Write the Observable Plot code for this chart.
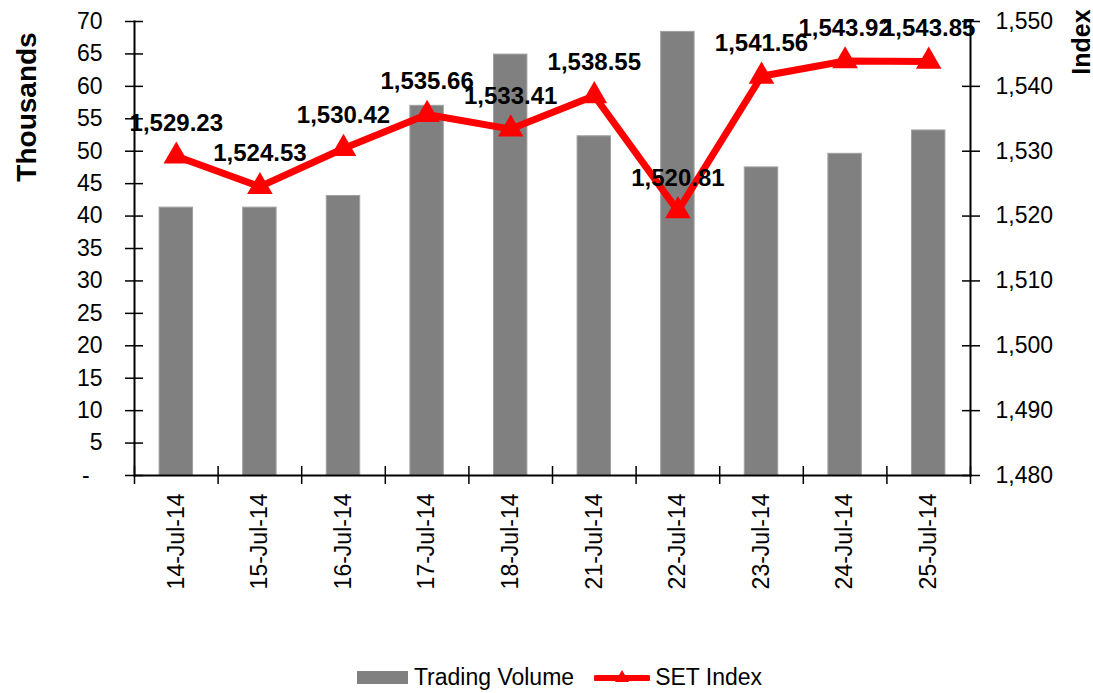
<!DOCTYPE html>
<html>
<head>
<meta charset="utf-8">
<script src="https://cdn.jsdelivr.net/npm/d3@7"></script>
<script src="https://cdn.jsdelivr.net/npm/@observablehq/plot@0.6"></script>
<style>
  body { margin: 0; background: #fff; font-family: "Liberation Sans", Arial, sans-serif; }
  #chart { position: relative; width: 1093px; height: 650px; }
  .ytitle { position: absolute; transform: translate(-50%, -50%) rotate(-90deg); white-space: nowrap; font-weight: bold; color: #000; line-height: 1; }
  #legend { height: 43px; display: flex; justify-content: center; align-items: center; padding-left: 26px; box-sizing: border-box; padding-top: 12px; font-size: 23px; color: #000; }
  .item { display: flex; align-items: center; margin: 0 8px; }
  .item svg { margin-right: 5px; }
</style>
</head>
<body>
<div id="chart">
  <div class="ytitle" style="left:27px; top:107px; font-size:28px;">Thousands</div>
  <div class="ytitle" style="left:1081px; top:42px; font-size:25px;">Index</div>
</div>
<div id="legend">
  <div class="item"><svg width="52" height="14"><rect x="0" y="0" width="51" height="13" fill="#808080"></rect></svg>Trading Volume</div>
  <div class="item" style="margin-left:12px"><svg width="56" height="24"><line x1="2" y1="12" x2="54" y2="12" stroke="#ff0000" stroke-width="6" stroke-linecap="round"></line><path d="M28,4 L35,16 L21,16 Z" fill="#ff0000"></path></svg>SET Index</div>
</div>
<script>
const dates = ["14-Jul-14", "15-Jul-14", "16-Jul-14", "17-Jul-14", "18-Jul-14", "21-Jul-14", "22-Jul-14", "23-Jul-14", "24-Jul-14", "25-Jul-14"];
const tradingVolume = [41.3, 41.3, 43.1, 57.0, 64.9, 52.3, 68.4, 47.5, 49.6, 53.2];
const setIndex = [1529.23, 1524.53, 1530.42, 1535.66, 1533.41, 1538.55, 1520.81, 1541.56, 1543.92, 1543.85];
const leftTicks = [0, 5, 10, 15, 20, 25, 30, 35, 40, 45, 50, 55, 60, 65, 70];
const rightTicks = [1480, 1490, 1500, 1510, 1520, 1530, 1540, 1550];

const leftDomain = [0, 70];
const rightDomain = [1480, 1550];
const toLeft = d3.scaleLinear(rightDomain, leftDomain);

const data = dates.map((d, i) => ({i, date: d, vol: tradingVolume[i], idx: setIndex[i], yIdx: toLeft(setIndex[i])}));
const idxs = dates.map((d, i) => i);
const bounds = dates.map((d, i) => i - 0.5).concat([dates.length - 0.5]);
const fmtIdx = d3.format(",.2f");
const fmtAxis = d3.format(",");

const chart = Plot.plot({
  width: 1093,
  height: 650,
  marginLeft: 134,
  marginRight: 123,
  marginTop: 21,
  marginBottom: 175,
  style: {fontFamily: "'Liberation Sans', Arial, sans-serif", fontSize: "23px", color: "#000", background: "#fff", overflow: "visible"},
  x: {type: "linear", domain: [-0.5, dates.length - 0.5]},
  y: {domain: leftDomain},
  marks: [
    Plot.rectY(data, {x1: d => d.i - 0.2, x2: d => d.i + 0.2, y: "vol", fill: "#808080", stroke: "#a0a0a0", strokeWidth: 1}),
    Plot.frame({anchor: "left", stroke: "#000", strokeWidth: 2}),
    Plot.frame({anchor: "right", stroke: "#000", strokeWidth: 2}),
    Plot.frame({anchor: "bottom", stroke: "#000", strokeWidth: 2}),
    // left axis: crossing ticks, then labels
    Plot.axisY({anchor: "left", ticks: leftTicks, tickSize: 18, dx: 9, tickFormat: () => "", label: null, strokeWidth: 1.5}),
    Plot.axisY({anchor: "left", ticks: leftTicks, tickSize: 0, tickPadding: 32, tickFormat: t => t === 0 ? "-\u00a0\u00a0" : String(t), label: null, fontSize: 23}),
    // right axis
    Plot.axisY({anchor: "right", ticks: rightTicks.map(toLeft), tickSize: 18, dx: -9, tickFormat: () => "", label: null, strokeWidth: 1.5}),
    Plot.axisY({anchor: "right", ticks: rightTicks.map(toLeft), tickSize: 0, tickPadding: 25, tickFormat: t => fmtAxis(Math.round(toLeft.invert(t))), label: null, fontSize: 23}),
    // bottom axis: boundary ticks and rotated labels
    Plot.axisX({ticks: bounds, tickSize: 18, dy: -9, tickFormat: () => "", label: null, strokeWidth: 1.5}),
    Plot.axisX({ticks: idxs, tickSize: 0, tickPadding: 18, tickRotate: -90, tickFormat: i => dates[i], label: null, fontSize: 23}),
    // SET index line
    Plot.line(data, {x: "i", y: "yIdx", stroke: "#ff0000", strokeWidth: 7}),
    Plot.dot(data, {x: "i", y: "yIdx", symbol: "triangle", r: 9.5, fill: "#ff0000", stroke: "none"}),
    Plot.text(data, {x: "i", y: "yIdx", text: d => fmtIdx(d.idx), dy: -33, fontWeight: "bold", fontSize: 24, fill: "#000"})
  ]
});
document.getElementById("chart").appendChild(chart);
</script>
</body>
</html>
